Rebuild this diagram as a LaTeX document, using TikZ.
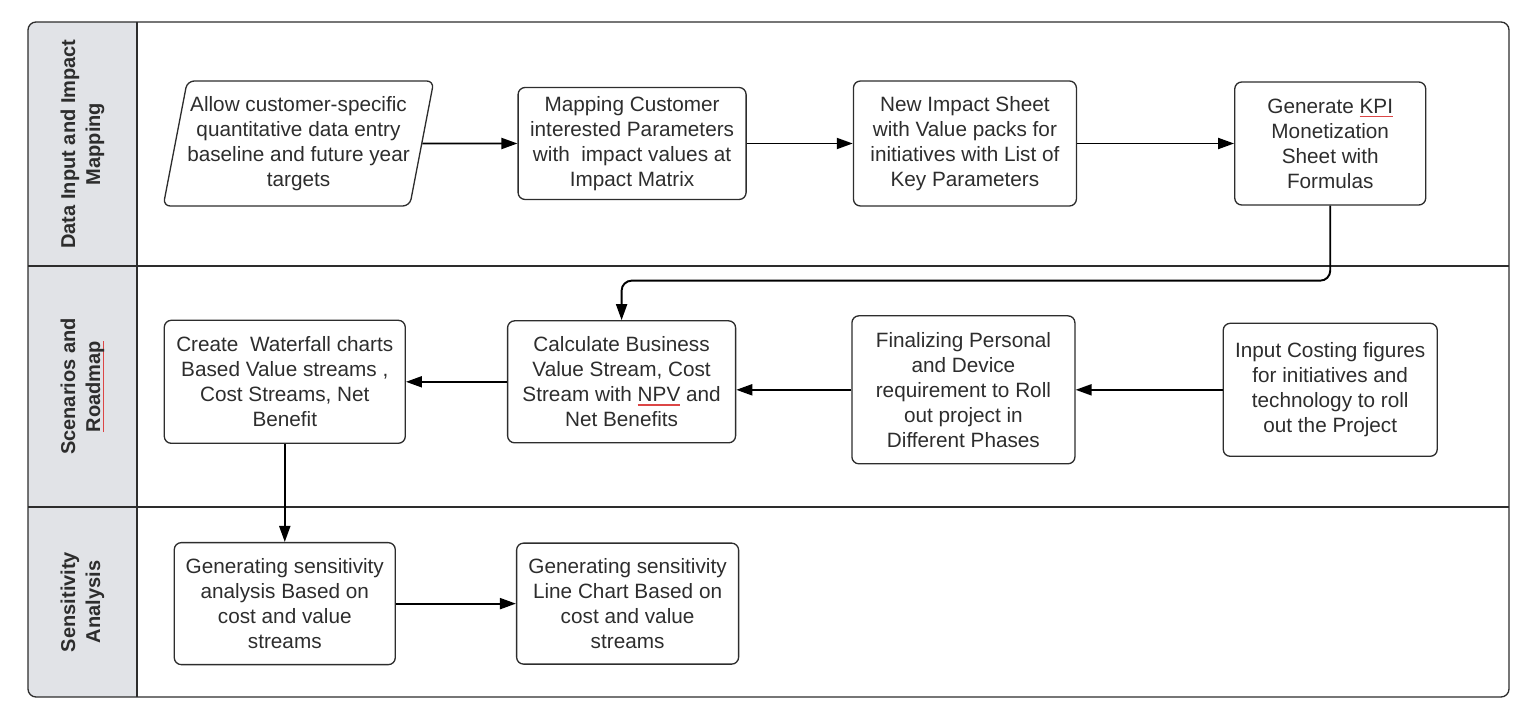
\documentclass[tikz,border=0pt]{standalone}
\usepackage{fontspec}
\setmainfont{Liberation Sans}
\usetikzlibrary{positioning,shapes.geometric,arrows.meta,calc}
\definecolor{lanegray}{RGB}{225,227,231}
\definecolor{inkgray}{RGB}{45,45,45}
\definecolor{spellred}{RGB}{220,70,70}
\newsavebox{\spellbox}
\newcommand{\spellmark}[1]{\sbox{\spellbox}{#1}\rlap{\color{spellred}\rule[-0.2em]{\wd\spellbox}{0.07em}}\usebox{\spellbox}}

\begin{document}
\begin{tikzpicture}[
    every node/.style={font=\fontsize{11.8}{14.2}\selectfont, text=inkgray},
    box/.style={draw=inkgray, line width=0.75pt, rounded corners=0.14cm, align=center, inner sep=0.1cm},
    datain/.style={trapezium, trapezium left angle=77, trapezium right angle=103, trapezium stretches=true,
        draw=inkgray, line width=0.75pt, rounded corners=0.14cm, align=center, inner xsep=0pt, inner ysep=0.1cm},
    flow/.style={-{Triangle[length=0.32cm,width=0.22cm]}, line width=1.1pt, black},
    lanetitle/.style={rotate=90, align=center, font=\bfseries\fontsize{11.4}{14.2}\selectfont},
    laneline/.style={draw=inkgray, line width=0.75pt}
  ]
            \useasboundingbox (0,0) rectangle (30.44,14.34);
            \begin{scope}
                \clip[rounded corners=0.16cm] (0.56,0.40) rectangle (30.18,13.90);
                \fill[lanegray] (0.56,0.40) rectangle (2.74,13.90);
            \end{scope}
            \draw[laneline, rounded corners=0.16cm] (0.56,0.40) rectangle (30.18,13.90);
            \draw[laneline] (2.74,0.40) -- (2.74,13.90);
            \draw[laneline] (0.56,9.02) -- (30.18,9.02);
            \draw[laneline] (0.56,4.20) -- (30.18,4.20);

            \node[lanetitle] (lane1) at (1.65,11.46) {Data Input and Impact\\Mapping};
            \node[lanetitle] (lane2) at (1.65,6.61) {Scenarios and\\\spellmark{Roadmap}};
            \node[lanetitle] (lane3) at (1.65,2.30) {Sensitivity\\Analysis};

            \node[datain, minimum width=5.3cm, minimum height=2.5cm] (in1) at (5.97,11.47) {Allow customer-specific\\quantitative data entry\\baseline and future year\\targets};
            \node[box, minimum width=4.56cm, minimum height=2.24cm, right=1.90cm of in1] (map) {Mapping Customer\\interested Parameters\\with~ impact values at\\Impact Matrix};
            \node[box, minimum width=4.46cm, minimum height=2.5cm, right=2.12cm of map] (sheet) {New Impact Sheet\\with Value packs for\\initiatives with List of\\Key Parameters};
            \node[box, minimum width=3.82cm, minimum height=2.46cm, right=3.14cm of sheet] (kpi) {Generate \spellmark{KPI}\\Monetization\\Sheet with\\Formulas};
            \coordinate[below=1.5cm of kpi.south] (turn);

            \node[box, minimum width=4.28cm, minimum height=2.66cm, below=2.34cm of kpi] (cost) {Input Costing figures\\for initiatives and\\technology to roll\\out the Project};
            \node[box, minimum width=4.46cm, minimum height=2.96cm, left=2.94cm of cost] (phase) {Finalizing Personal\\and Device\\requirement to Roll\\out project in\\Different Phases};
            \node[box, minimum width=4.56cm, minimum height=2.44cm, left=2.30cm of phase, yshift=0.16cm] (npv) {Calculate Business\\Value Stream, Cost\\Stream with \spellmark{NPV} and\\Net Benefits};
            \node[box, minimum width=4.82cm, minimum height=2.46cm, left=2.02cm of npv] (fall) {Create~ Waterfall charts\\Based Value streams ,\\Cost Streams, Net\\Benefit};

            \node[box, minimum width=4.42cm, minimum height=2.44cm, below=1.96cm of fall] (sens1) {Generating sensitivity\\analysis Based on\\cost and value\\streams};
            \node[box, minimum width=4.44cm, minimum height=2.42cm, right=2.40cm of sens1] (sens2) {Generating sensitivity\\Line Chart Based on\\cost and value\\streams};

            \draw[flow] (in1) -- (map);
            \draw[flow] (map) -- (sheet);
            \draw[flow] (sheet) -- (kpi);
            \draw[flow, rounded corners=0.2cm] (kpi.south) -- (turn) -| (npv.north);
            \draw[flow] (cost) -- (phase);
            \draw[flow] (phase.west) -- (phase.west -| npv.east);
            \draw[flow] (npv) -- (fall);
            \draw[flow] (fall) -- (sens1);
            \draw[flow] (sens1) -- (sens2);
\end{tikzpicture}
\end{document}
